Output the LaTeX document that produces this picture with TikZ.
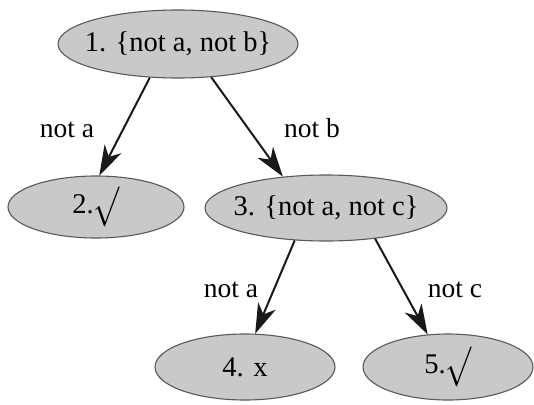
\documentclass[tikz,border=0pt]{standalone}
\usepackage{fontspec}
\usepackage{graphicx}
\setmainfont{Liberation Serif}
\usetikzlibrary{shapes.geometric,arrows.meta}
\newcommand{\chk}{\raisebox{-0.12em}{\scalebox{1.25}[1.6]{$\surd$}}}
\newcommand{\tx}[1]{\makebox[0pt]{#1}}
\begin{document}
\begin{tikzpicture}[x=1pt,y=-1pt,
  state/.style={ellipse,draw=black!65,line width=1.1pt,fill=black!21,inner sep=0pt,font=\fontsize{28.5}{30}\selectfont},
  edge/.style={line width=2pt,draw=black!90,-{Stealth[length=30pt,width=19pt,inset=9pt]}},
  lab/.style={font=\fontsize{27.5}{30}\selectfont,inner sep=0pt}]
\useasboundingbox (0,0) rectangle (534,404);
\node[state,minimum width=240pt,minimum height=68pt] (n1) at (178,44) {\tx{1. \{not a, not b\}}};
\node[state,minimum width=176pt,minimum height=62pt] (n2) at (96,207) {\tx{2.\chk}};
\node[state,minimum width=242pt,minimum height=66pt] (n3) at (326,208) {\tx{3. \{not a, not c\}}};
\node[state,minimum width=180pt,minimum height=66pt] (n4) at (245,367) {\tx{4. x}};
\node[state,minimum width=170pt,minimum height=66pt] (n5) at (448,367) {\tx{5.\chk}};
\draw[edge] (n1.230) -- (n2.84);
\draw[edge] (n1.315) -- (n3.144);
\draw[edge] (n3.226) -- (n4.73);
\draw[edge] (n3.328) -- (n5.122);
\node[lab] (l1) at (67,130) {not a};
\node[lab] (l2) at (312,128) {not b};
\node[lab] (l3) at (231,290) {not a};
\node[lab] (l4) at (455,290) {not c};
\end{tikzpicture}
\end{document}
